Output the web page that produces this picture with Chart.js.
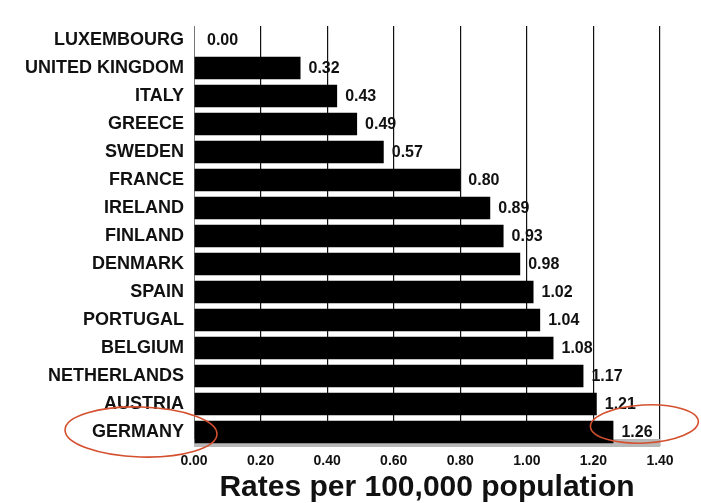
<!DOCTYPE html>
<html>
<head>
<meta charset="utf-8">
<script src="https://cdn.jsdelivr.net/npm/chart.js@4/dist/chart.umd.min.js"></script>
<style>
  html, body { margin: 0; padding: 0; background: #fff; }
  canvas { display: block; }
</style>
</head>
<body>
<canvas id="c" width="701" height="503"></canvas>
<script>
// Countries, top to bottom
const countries = [
  'LUXEMBOURG', 'UNITED KINGDOM', 'ITALY', 'GREECE', 'SWEDEN', 'FRANCE',
  'IRELAND', 'FINLAND', 'DENMARK', 'SPAIN', 'PORTUGAL', 'BELGIUM',
  'NETHERLANDS', 'AUSTRIA', 'GERMANY'
];
// Rates per 100,000 population
const rates = [
  0.00, 0.32, 0.43, 0.49, 0.57, 0.80,
  0.89, 0.93, 0.98, 1.02, 1.04, 1.08,
  1.17, 1.21, 1.26
];
// Axis ticks
const xMin = 0, xMax = 1.40, xStep = 0.20;
const axisTitle = 'Rates per 100,000 population';
const highlighted = 'GERMANY';

const FONT = '"Liberation Sans", Arial, sans-serif';

// Shaded strip along the bottom of the plot
const baseStrip = {
  id: 'baseStrip',
  beforeDatasetsDraw(chart) {
    const { ctx, chartArea: a } = chart;
    ctx.save();
    ctx.fillStyle = '#b8b8b8';
    ctx.fillRect(a.left, a.bottom - 7, a.right - a.left, 8);
    ctx.restore();
  }
};

// Value printed after each bar
const valueLabels = {
  id: 'valueLabels',
  afterDatasetsDraw(chart) {
    const { ctx } = chart;
    const meta = chart.getDatasetMeta(0);
    ctx.save();
    ctx.font = 'bold 16px ' + FONT;
    ctx.fillStyle = '#111';
    ctx.textAlign = 'left';
    ctx.textBaseline = 'middle';
    meta.data.forEach((bar, i) => {
      const gap = rates[i] === 0 ? 13 : 8;
      ctx.fillText(rates[i].toFixed(2), bar.x + gap, bar.y + 1);
    });
    ctx.restore();
  }
};

// Red rings around the highlighted country and its value
const highlightRings = {
  id: 'highlightRings',
  afterDraw(chart) {
    const { ctx, scales } = chart;
    const idx = countries.indexOf(highlighted);
    const y = scales.y.getPixelForValue(idx);
    const xEnd = scales.x.getPixelForValue(rates[idx]);
    ctx.save();
    ctx.strokeStyle = '#d4502f';
    ctx.lineWidth = 1.6;
    ctx.beginPath();
    ctx.ellipse(scales.x.left - 53, y + 0, 76, 25, 0.03, 0, Math.PI * 2);
    ctx.stroke();
    ctx.beginPath();
    ctx.ellipse(xEnd + 31, y - 8, 54, 19, -0.05, 0, Math.PI * 2);
    ctx.stroke();
    ctx.restore();
  }
};

new Chart(document.getElementById('c'), {
  type: 'bar',
  data: {
    labels: countries,
    datasets: [{
      data: rates,
      backgroundColor: '#000',
      borderWidth: 0,
      barPercentage: 0.8,
      categoryPercentage: 1.0
    }]
  },
  options: {
    indexAxis: 'y',
    responsive: false,
    animation: false,
    devicePixelRatio: 1,
    layout: { padding: { top: 26, right: 41, left: 0, bottom: 0 } },
    plugins: { legend: { display: false }, tooltip: { enabled: false } },
    scales: {
      x: {
        min: xMin,
        max: xMax,
        ticks: {
          stepSize: xStep,
          padding: 7,
          color: '#111',
          font: { family: FONT, size: 14, weight: 'bold' },
          callback: v => Number(v).toFixed(2)
        },
        grid: {
          drawTicks: false,
          lineWidth: 1.2,
          color: ctx => ctx.index === 0 ? 'rgba(0,0,0,0)' : '#111'
        },
        border: { display: false },
        title: {
          display: true,
          text: axisTitle,
          color: '#111',
          padding: { top: 3, bottom: 0 },
          font: { family: FONT, size: 30, weight: 'bold', lineHeight: 1.0 }
        },
        afterFit(scale) { scale.height = 57; }
      },
      y: {
        ticks: {
          padding: 10,
          color: '#111',
          font: { family: FONT, size: 18, weight: 'bold' }
        },
        grid: { display: false, drawTicks: false },
        border: { display: true, color: '#777', width: 1, dash: [2, 1] },
        afterFit(scale) { scale.width = 194; }
      }
    }
  },
  plugins: [baseStrip, valueLabels, highlightRings]
});
</script>
</body>
</html>
